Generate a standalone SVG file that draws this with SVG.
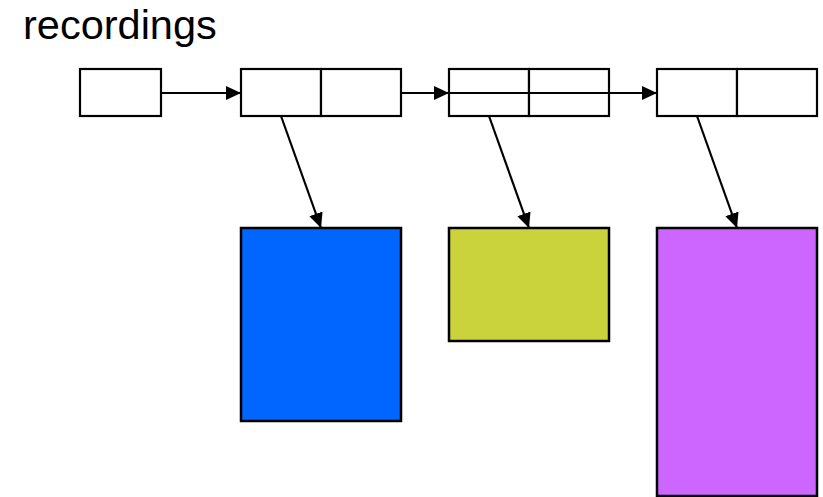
<svg xmlns="http://www.w3.org/2000/svg" width="823" height="497" viewBox="0 0 823 497">
<style>
.cell{fill:#fff;stroke:#000;stroke-width:2.2}
.blk{stroke:#000;stroke-width:2.5}
.con{stroke:#000;stroke-width:2.2;fill:none;marker-end:url(#ah)}
.lbl{font-family:"Liberation Sans",Arial,sans-serif;font-size:41.5px;fill:#000}
</style>
<defs>
<marker id="ah" markerUnits="userSpaceOnUse" markerWidth="16" markerHeight="15" refX="15" refY="7" orient="auto">
<path d="M0,0 L15,7 L0,14 Z" fill="#000"/>
</marker>
</defs>
<text class="lbl" x="23" y="39">recordings</text>
<g id="head"><rect class="cell" x="80" y="69" width="81" height="47"/></g>
<g id="node1"><rect class="cell" x="241" y="69" width="80" height="47"/><rect class="cell" x="321" y="69" width="80" height="47"/></g>
<g id="node2"><rect class="cell" x="449" y="69" width="80" height="47"/><rect class="cell" x="529" y="69" width="80" height="47"/></g>
<g id="node3"><rect class="cell" x="657" y="69" width="80" height="47"/><rect class="cell" x="737" y="69" width="80" height="47"/></g>
<g id="blue"><rect class="blk" x="241" y="228" width="160" height="193" fill="#0066ff"/></g>
<g id="yellow"><rect class="blk" x="449" y="228" width="160" height="113" fill="#cbd33c"/></g>
<g id="purple"><rect class="blk" x="657" y="228" width="160" height="268" fill="#cc66ff"/></g>
<g id="connectors">
<line class="con" x1="161" y1="93" x2="241" y2="93"/>
<line class="con" x1="401" y1="93" x2="449" y2="93"/>
<line class="con" x1="449" y1="93" x2="657" y2="93"/>
<line class="con" x1="281" y1="116" x2="321" y2="228"/>
<line class="con" x1="489" y1="116" x2="529" y2="228"/>
<line class="con" x1="697" y1="116" x2="737" y2="228"/>
</g>
</svg>
